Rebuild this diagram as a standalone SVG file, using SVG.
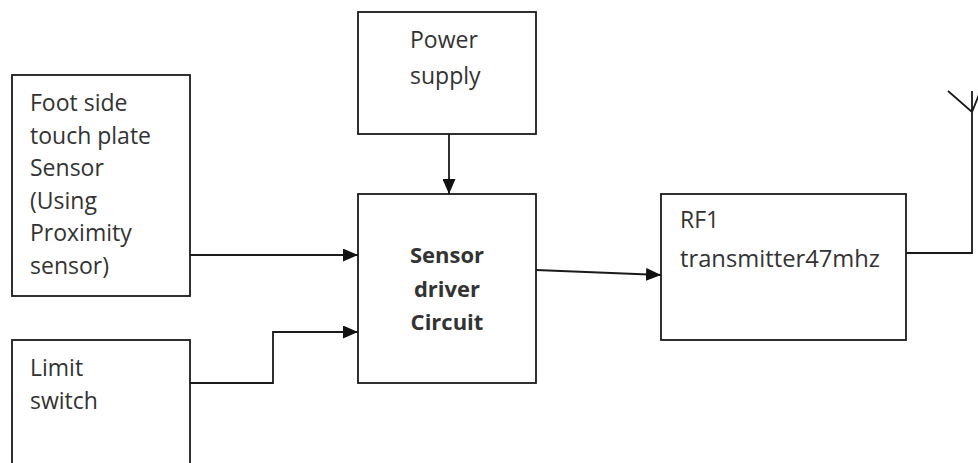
<svg xmlns="http://www.w3.org/2000/svg" width="978" height="463" viewBox="0 0 978 463">
<style>
.box{fill:#fff;stroke:#1a1a1a;stroke-width:1.8}
.t{font-family:"Open Sans","Liberation Sans",sans-serif;font-size:23px;fill:#333}
.b{font-weight:bold;text-anchor:middle;font-size:22px}
.c{fill:none;stroke:#1a1a1a;stroke-width:1.8}
</style>
<defs>
<marker id="ah" markerWidth="15" markerHeight="13" refX="15" refY="6.5" orient="auto" markerUnits="userSpaceOnUse">
<path d="M0,0 L15,6.5 L0,13 z" fill="#111"/>
</marker>
</defs>
<rect width="978" height="463" fill="#fff"/>
<g id="foot">
<rect class="box" x="12" y="75" width="178" height="221"/>
<text class="t" x="30" y="111">Foot side</text>
<text class="t" x="30" y="144">touch plate</text>
<text class="t" x="30" y="176">Sensor</text>
<text class="t" x="30" y="209">(Using</text>
<text class="t" x="30" y="241">Proximity</text>
<text class="t" x="30" y="274">sensor)</text>
</g>
<g id="limit">
<rect class="box" x="12" y="340" width="178" height="140"/>
<text class="t" x="30" y="376">Limit</text>
<text class="t" x="30" y="409">switch</text>
</g>
<g id="power">
<rect class="box" x="358" y="12" width="178" height="122"/>
<text class="t" x="410" y="48">Power</text>
<text class="t" x="410" y="84">supply</text>
</g>
<g id="driver">
<rect class="box" x="358" y="194" width="178" height="189"/>
<text class="t b" x="447" y="263">Sensor</text>
<text class="t b" x="447" y="297">driver</text>
<text class="t b" x="447" y="330">Circuit</text>
</g>
<g id="rf">
<rect class="box" x="661" y="194" width="245" height="146"/>
<text class="t" x="680" y="228">RF1</text>
<text class="t" x="680" y="267" textLength="200" lengthAdjust="spacingAndGlyphs">transmitter47mhz</text>
</g>
<g id="antenna">
<path class="c" d="M906,253 H972 V91 M948,91 L972,112 L980,92"/>
</g>
<g id="connectors">
<path class="c" d="M190,255 H358" marker-end="url(#ah)"/>
<path class="c" d="M190,383 H273 V332 H358" marker-end="url(#ah)"/>
<path class="c" d="M449,134 V194" marker-end="url(#ah)"/>
<path class="c" d="M536,270 L661,275" marker-end="url(#ah)"/>
</g>
</svg>
